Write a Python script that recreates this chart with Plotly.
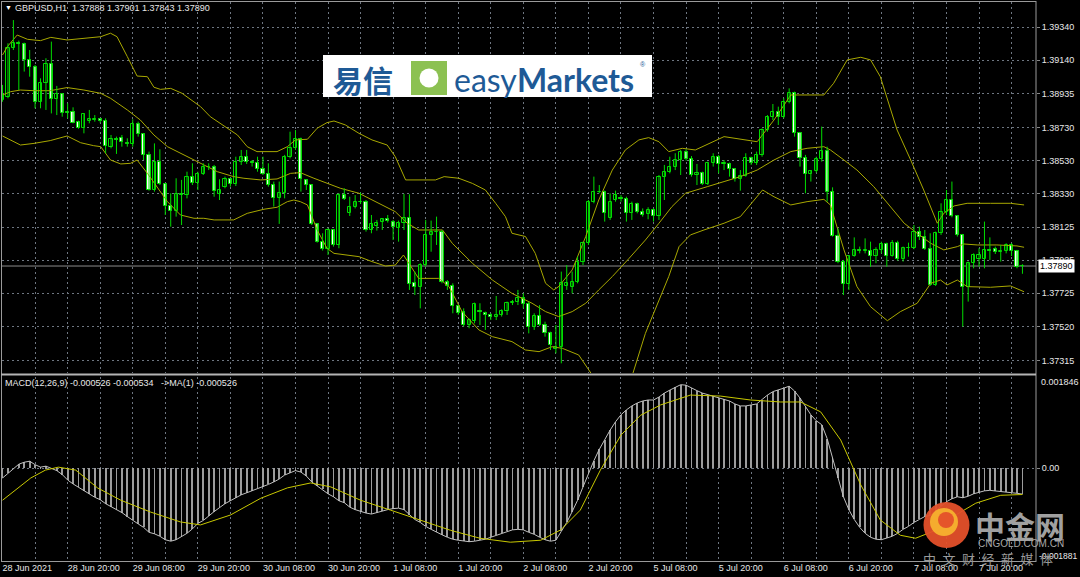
import plotly.graph_objects as go

# ---------------- data ----------------
open_ = [
1.38898,1.38919,1.39212,1.39247,1.39237,1.39142,1.39101,1.38888,1.39000,1.39115,
1.38903,1.38933,1.38824,1.38824,1.38767,1.38731,1.38773,1.38777,1.38781,1.38771,
1.38615,1.38660,1.38666,1.38639,1.38631,1.38753,1.38690,1.38565,1.38352,1.38524,
1.38388,1.38255,1.38226,1.38328,1.38324,1.38433,1.38396,1.38449,1.38490,1.38494,
1.38328,1.38368,1.38419,1.38388,1.38520,1.38554,1.38520,1.38514,1.38478,1.38449,
1.38382,1.38305,1.38332,1.38554,1.38605,1.38660,1.38413,1.38382,1.38143,1.38038,
1.37992,1.38109,1.38018,1.38321,1.38210,1.38247,1.38277,1.38281,1.38109,1.38133,
1.38160,1.38174,1.38160,1.38119,1.38150,1.38180,1.37785,1.37765,1.37896,1.38079,
1.38095,1.38099,1.37795,1.37769,1.37647,1.37611,1.37532,1.37558,1.37619,1.37607,
1.37591,1.37579,1.37593,1.37617,1.37668,1.37674,1.37694,1.37660,1.37522,1.37587,
1.37532,1.37481,1.37384,1.37400,1.37769,1.37761,1.37795,1.37912,1.38028,1.38281,
1.38342,1.38338,1.38180,1.38291,1.38303,1.38297,1.38210,1.38267,1.38220,1.38206,
1.38230,1.38194,1.38429,1.38463,1.38490,1.38534,1.38585,1.38542,1.38443,1.38453,
1.38388,1.38514,1.38554,1.38510,1.38510,1.38478,1.38417,1.38437,1.38544,1.38518,
1.38565,1.38716,1.38793,1.38824,1.38797,1.38888,1.38943,1.38696,1.38548,1.38449,
1.38467,1.38538,1.38591,1.38342,1.38073,1.37917,1.37781,1.37951,1.37988,1.37980,
1.37984,1.37953,1.37988,1.38022,1.37951,1.38028,1.37931,1.37998,1.38002,1.38099,
1.38064,1.37992,1.37775,1.38089,1.38220,1.38291,1.38194,1.38079,1.37761,1.37907,
1.37931,1.37931,1.37988,1.37992,1.37977,1.37984,1.38018,1.37984,1.37888]
high = [
1.38990,1.39243,1.39384,1.39259,1.39247,1.39202,1.39111,1.39030,1.39152,1.39253,
1.38984,1.38939,1.38878,1.38854,1.38773,1.38817,1.38838,1.38807,1.38787,1.38787,
1.38686,1.38676,1.38686,1.38666,1.38781,1.38767,1.38696,1.38585,1.38635,1.38599,
1.38392,1.38332,1.38423,1.38413,1.38463,1.38514,1.38463,1.38514,1.38514,1.38504,
1.38417,1.38433,1.38423,1.38554,1.38595,1.38595,1.38534,1.38554,1.38554,1.38514,
1.38403,1.38403,1.38565,1.38706,1.38716,1.38670,1.38417,1.38386,1.38150,1.38089,
1.38119,1.38113,1.38332,1.38362,1.38311,1.38321,1.38336,1.38291,1.38200,1.38170,
1.38180,1.38200,1.38170,1.38166,1.38328,1.38326,1.37856,1.37907,1.38170,1.38166,
1.38190,1.38109,1.37805,1.37785,1.37653,1.37633,1.37572,1.37668,1.37664,1.37613,
1.37603,1.37708,1.37627,1.37674,1.37684,1.37745,1.37724,1.37674,1.37603,1.37653,
1.37552,1.37491,1.37532,1.37856,1.37896,1.37856,1.37947,1.38038,1.38291,1.38433,
1.38382,1.38348,1.38332,1.38348,1.38321,1.38311,1.38281,1.38275,1.38240,1.38247,
1.38240,1.38443,1.38504,1.38554,1.38575,1.38595,1.38599,1.38558,1.38510,1.38463,
1.38524,1.38575,1.38565,1.38534,1.38518,1.38484,1.38473,1.38575,1.38554,1.38585,
1.38726,1.38807,1.38874,1.38858,1.38909,1.38969,1.38949,1.38700,1.38565,1.38473,
1.38554,1.38737,1.38615,1.38368,1.38119,1.37927,1.37957,1.38064,1.38008,1.38058,
1.38038,1.38004,1.38038,1.38032,1.38048,1.38044,1.38008,1.38032,1.38139,1.38129,
1.38109,1.38089,1.38099,1.38271,1.38352,1.38403,1.38200,1.38085,1.37917,1.37967,
1.37998,1.38160,1.38064,1.38008,1.38018,1.38028,1.38028,1.37988,1.37901]
low = [
1.38888,1.38909,1.39202,1.38959,1.39071,1.39040,1.38848,1.38848,1.38838,1.38817,
1.38807,1.38797,1.38787,1.38757,1.38724,1.38696,1.38757,1.38767,1.38761,1.38575,
1.38605,1.38571,1.38615,1.38615,1.38615,1.38676,1.38534,1.38348,1.38342,1.38382,
1.38200,1.38129,1.38190,1.38139,1.38301,1.38382,1.38352,1.38443,1.38473,1.38311,
1.38291,1.38362,1.38372,1.38376,1.38504,1.38510,1.38494,1.38463,1.38443,1.38372,
1.38251,1.38146,1.38301,1.38544,1.38595,1.38342,1.38352,1.38139,1.38032,1.37984,
1.37957,1.38008,1.37998,1.38291,1.38194,1.38240,1.38267,1.38099,1.38089,1.38105,
1.38109,1.38154,1.38048,1.38038,1.38109,1.37745,1.37714,1.37633,1.37886,1.37977,
1.38018,1.37785,1.37745,1.37603,1.37593,1.37522,1.37512,1.37542,1.37532,1.37502,
1.37562,1.37562,1.37583,1.37593,1.37653,1.37653,1.37633,1.37481,1.37502,1.37526,
1.37461,1.37380,1.37360,1.37299,1.37745,1.37724,1.37785,1.37896,1.38018,1.38271,
1.38332,1.38160,1.38170,1.38281,1.38281,1.38160,1.38170,1.38210,1.38190,1.38174,
1.38160,1.38170,1.38291,1.38453,1.38473,1.38443,1.38530,1.38433,1.38382,1.38382,
1.38382,1.38494,1.38453,1.38473,1.38433,1.38403,1.38348,1.38433,1.38504,1.38504,
1.38554,1.38706,1.38777,1.38747,1.38787,1.38878,1.38676,1.38494,1.38332,1.38403,
1.38457,1.38524,1.38281,1.38069,1.37907,1.37714,1.37745,1.37947,1.37967,1.37967,
1.37886,1.37907,1.37967,1.37886,1.37947,1.37923,1.37917,1.37947,1.37992,1.38048,
1.37988,1.37769,1.37769,1.38079,1.38200,1.38186,1.38069,1.37522,1.37674,1.37876,
1.37886,1.37876,1.37927,1.37963,1.37917,1.37967,1.37951,1.37876,1.37843]
close = [
1.38929,1.39212,1.39247,1.39237,1.39142,1.39101,1.38888,1.39000,1.39117,1.38903,
1.38935,1.38817,1.38817,1.38761,1.38731,1.38812,1.38781,1.38785,1.38773,1.38619,
1.38660,1.38656,1.38645,1.38631,1.38753,1.38690,1.38565,1.38352,1.38524,1.38388,
1.38255,1.38226,1.38328,1.38324,1.38433,1.38396,1.38449,1.38490,1.38494,1.38346,
1.38352,1.38419,1.38388,1.38520,1.38554,1.38520,1.38514,1.38478,1.38449,1.38382,
1.38305,1.38332,1.38554,1.38605,1.38660,1.38419,1.38382,1.38146,1.38038,1.37992,
1.38109,1.38018,1.38321,1.38295,1.38247,1.38277,1.38281,1.38109,1.38146,1.38150,
1.38174,1.38164,1.38125,1.38154,1.38180,1.37781,1.37765,1.37896,1.38079,1.38095,
1.38099,1.37795,1.37769,1.37647,1.37607,1.37532,1.37562,1.37660,1.37609,1.37591,
1.37583,1.37593,1.37617,1.37668,1.37674,1.37694,1.37660,1.37522,1.37587,1.37532,
1.37481,1.37410,1.37400,1.37785,1.37789,1.37795,1.37912,1.38028,1.38281,1.38342,
1.38338,1.38214,1.38281,1.38321,1.38295,1.38210,1.38267,1.38220,1.38200,1.38230,
1.38194,1.38433,1.38463,1.38494,1.38534,1.38585,1.38538,1.38443,1.38453,1.38388,
1.38514,1.38554,1.38510,1.38514,1.38478,1.38417,1.38437,1.38544,1.38518,1.38565,
1.38716,1.38793,1.38824,1.38797,1.38888,1.38943,1.38696,1.38548,1.38449,1.38467,
1.38538,1.38591,1.38342,1.38073,1.37917,1.37781,1.37951,1.37988,1.37980,1.37988,
1.37953,1.37988,1.38022,1.37951,1.38028,1.37931,1.37998,1.38002,1.38099,1.38064,
1.37992,1.37775,1.38089,1.38220,1.38291,1.38194,1.38079,1.37761,1.37907,1.37957,
1.37957,1.37988,1.37984,1.37977,1.37984,1.38018,1.37984,1.37886,1.37890]

# Bollinger bands (20,2) read at bar positions
bb_up_x = [0,0.9,2.7,4.6,7.0,8.9,11.9,18.1,19.9,21.1,23.0,24.8,26.7,27.9,29.1,31.0,33.1,36.5,38.3,41.4,
           43.3,45.1,46.9,50.6,52.5,54.0,56.2,58.0,59.8,61.1,63.2,65.7,68.1,70.9,72.4,74.3,79.8,81.4,84.1,86.6,
           89.0,90.9,92.7,93.9,96.4,98.2,100.1,101.6,102.5,105.0,107.5,109.9,112.4,114.8,117.3,119.1,121.0,122.8,125.3,127.7,
           133.0,139.1,142.2,145.3,151.4,153.2,155.7,158.2,160.0,161.8,163.7,164.9,167.4,169.8,172.3,173.5,175.4,177.8,182.1,185.8,188.3]
bb_up = [1.39172,1.39223,1.39293,1.39267,1.39259,1.39279,1.39263,1.39283,1.39304,1.39283,1.39162,1.39044,1.39040,1.38976,1.38963,1.38969,1.38939,1.38858,1.38797,1.38727,
         1.38686,1.38615,1.38585,1.38585,1.38615,1.38656,1.38660,1.38727,1.38761,1.38771,1.38747,1.38696,1.38656,1.38625,1.38554,1.38413,1.38413,1.38433,1.38423,1.38392,
         1.38352,1.38271,1.38190,1.38089,1.38069,1.37967,1.37785,1.37745,1.37765,1.37866,1.38069,1.38291,1.38473,1.38595,1.38656,1.38670,1.38645,1.38585,1.38605,1.38595,
         1.38676,1.38645,1.38777,1.38929,1.38929,1.39000,1.39142,1.39158,1.39142,1.39040,1.38838,1.38716,1.38534,1.38352,1.38150,1.38210,1.38255,1.38271,1.38271,1.38271,1.38261]
bb_mid_x = [0,1.5,3.3,5.8,8.8,11.9,15.0,18.1,19.9,23.0,25.4,27.9,30.4,33.4,36.5,39.6,42.6,44.5,47.6,50.6,
            53.1,54.9,57.4,59.8,62.3,65.7,69.4,72.4,74.6,76.7,81.1,82.9,86.6,90.3,93.9,97.6,100.1,102.5,105.0,107.5,
            109.9,112.4,115.5,118.5,121.0,123.4,125.9,127.7,129.9,133.0,136.0,139.1,142.2,145.3,148.3,151.4,152.6,155.1,157.5,160.6,
            163.7,166.2,168.6,171.1,173.5,176.0,177.2,179.7,183.3,187.0,188.3]
bb_mid = [1.38929,1.38949,1.38959,1.38955,1.38955,1.38974,1.38959,1.38939,1.38909,1.38838,1.38777,1.38686,1.38615,1.38565,1.38514,1.38463,1.38433,1.38423,1.38413,1.38419,
          1.38453,1.38457,1.38423,1.38392,1.38362,1.38332,1.38271,1.38220,1.38150,1.38109,1.38109,1.38028,1.37907,1.37805,1.37724,1.37664,1.37613,1.37583,1.37613,1.37664,
          1.37745,1.37826,1.37937,1.38048,1.38150,1.38251,1.38332,1.38352,1.38372,1.38403,1.38433,1.38473,1.38534,1.38585,1.38605,1.38615,1.38595,1.38534,1.38473,1.38372,
          1.38251,1.38150,1.38089,1.38028,1.37988,1.38008,1.38024,1.38018,1.38018,1.38012,1.38004]
bb_low_x = [0,1.5,3.3,5.8,8.8,11.9,14.4,16.8,18.1,19.9,21.8,23.6,24.8,26.7,28.5,30.4,32.8,35.3,37.1,39.0,
            42.6,45.1,48.2,50.6,52.5,53.7,54.9,56.2,58.0,59.8,61.1,64.1,65.7,68.1,70.6,72.4,73.9,74.9,76.7,80.4,
            82.3,84.7,87.8,90.3,93.9,96.4,98.9,101.3,103.2,106.2,108.7,110.5,112.4,114.2,116.1,118.5,121.0,122.8,124.7,126.8,
            129.3,133.0,136.0,139.1,140.1,142.2,145.3,148.3,151.4,152.6,155.1,157.5,160.0,163.1,165.5,168.6,171.1,172.9,174.1,176.0,
            177.8,182.1,185.8,188.3]
bb_low = [1.38680,1.38656,1.38625,1.38635,1.38652,1.38680,1.38639,1.38621,1.38615,1.38534,1.38510,1.38514,1.38534,1.38453,1.38372,1.38281,1.38200,1.38180,1.38180,1.38170,
          1.38170,1.38210,1.38235,1.38247,1.38281,1.38291,1.38281,1.38261,1.38109,1.37998,1.37967,1.37951,1.37947,1.37917,1.37890,1.37896,1.37957,1.37907,1.37815,1.37815,
          1.37765,1.37613,1.37502,1.37461,1.37431,1.37380,1.37370,1.37400,1.37390,1.37350,1.37228,1.37076,1.36975,1.37076,1.37228,1.37481,1.37684,1.37826,1.38008,1.38079,
          1.38109,1.38150,1.38190,1.38311,1.38352,1.38311,1.38261,1.38281,1.38295,1.38261,1.37988,1.37765,1.37643,1.37558,1.37613,1.37664,1.37785,1.37805,1.37775,1.37805,
          1.37765,1.37761,1.37769,1.37734]

# MACD(12,26,9) main value per bar
macd = [
-0.000200,-0.000100,0.000000,0.000080,0.000120,0.000140,0.000070,0.000020,0.000040,0.000000,
-0.000050,-0.000130,-0.000240,-0.000320,-0.000390,-0.000460,-0.000530,-0.000590,-0.000640,-0.000720,
-0.000780,-0.000840,-0.000900,-0.000980,-0.001060,-0.001130,-0.001200,-0.001300,-0.001330,-0.001380,
-0.001450,-0.001480,-0.001450,-0.001390,-0.001320,-0.001230,-0.001120,-0.001060,-0.000960,-0.000880,
-0.000800,-0.000720,-0.000660,-0.000600,-0.000540,-0.000500,-0.000460,-0.000410,-0.000380,-0.000330,
-0.000280,-0.000220,-0.000140,-0.000090,-0.000050,-0.000080,-0.000160,-0.000280,-0.000360,-0.000430,
-0.000520,-0.000580,-0.000660,-0.000700,-0.000790,-0.000840,-0.000880,-0.000910,-0.000930,-0.000900,
-0.000860,-0.000840,-0.000820,-0.000810,-0.000840,-0.000950,-0.001040,-0.001100,-0.001180,-0.001240,
-0.001300,-0.001350,-0.001400,-0.001440,-0.001460,-0.001480,-0.001490,-0.001480,-0.001460,-0.001440,
-0.001400,-0.001360,-0.001320,-0.001280,-0.001250,-0.001240,-0.001250,-0.001300,-0.001340,-0.001400,
-0.001450,-0.001480,-0.001460,-0.001280,-0.001100,-0.000880,-0.000650,-0.000380,-0.000100,0.000150,
0.000380,0.000580,0.000770,0.000940,0.001080,0.001180,0.001260,0.001320,0.001360,0.001380,
0.001380,0.001440,0.001520,0.001580,0.001640,0.001690,0.001680,0.001620,0.001570,0.001520,
0.001490,0.001460,0.001430,0.001400,0.001360,0.001300,0.001260,0.001260,0.001280,0.001300,
0.001390,0.001480,0.001550,0.001580,0.001620,0.001660,0.001560,0.001420,0.001240,0.001080,
0.000960,0.000880,0.000600,0.000200,-0.000200,-0.000580,-0.000840,-0.001040,-0.001200,-0.001320,
-0.001400,-0.001440,-0.001450,-0.001420,-0.001380,-0.001320,-0.001240,-0.001180,-0.001100,-0.001040,
-0.000980,-0.000960,-0.000860,-0.000760,-0.000680,-0.000620,-0.000580,-0.000600,-0.000570,-0.000520,
-0.000490,-0.000460,-0.000450,-0.000460,-0.000480,-0.000480,-0.000490,-0.000510,-0.000526]
# signal line read at bar positions
sig_x = [0,2.4,5.2,7.9,10.3,13.5,17.5,21.8,27.3,32.8,36.5,42.0,47.6,52.5,56.8,60.5,66.0,71.5,77.0,82.6,
         88.0,93.6,99.2,102.9,106.5,110.2,114.0,117.6,121.3,126.8,132.3,137.9,143.4,147.1,150.8,154.5,158.2,161.8,165.5,168.3,
         172.0,175.7,179.4,184.0,188.0]
sig = [-0.00065,-0.00044,-0.00020,-0.00004,0.00002,-0.00004,-0.00040,-0.00065,-0.00089,-0.00109,-0.00115,-0.00095,-0.00061,-0.00040,-0.00030,-0.00038,-0.00065,-0.00085,-0.00105,-0.00126,
       -0.00142,-0.00150,-0.00146,-0.00125,-0.00085,-0.00004,0.00067,0.00107,0.00128,0.00148,0.00146,0.00138,0.00134,0.00134,0.00114,0.00057,-0.00034,-0.00105,-0.00136,-0.00142,
       -0.00126,-0.00095,-0.00071,-0.00055,-0.000534]

time_labels = ["28 Jun 2021", "28 Jun 20:00", "29 Jun 08:00", "29 Jun 20:00", "30 Jun 08:00",
               "30 Jun 20:00", "1 Jul 08:00", "1 Jul 20:00", "2 Jul 08:00", "2 Jul 20:00",
               "5 Jul 08:00", "5 Jul 20:00", "6 Jul 08:00", "6 Jul 20:00", "7 Jul 08:00", "7 Jul 20:00"]
price_ticks = [1.39340, 1.39140, 1.38935, 1.38730, 1.38530, 1.38330, 1.38125, 1.37925, 1.37725, 1.37520, 1.37315]
macd_max, macd_min = 0.001846, -0.001881

# ---------------- style / layout helpers ----------------
W, H = 1080, 577
ML, MR, MT, MB = 2, 44, 2, 16
PW, PH = W - ML - MR, H - MT - MB
def PX(x): return (x - ML) / PW
def PY(y): return 1 - (y - MT) / PH

GREEN = "#00dc00"
GRID = "#6e7681"
TXT = "#e8e8e8"
FONT = "Liberation Sans"
n = len(close)
xs = list(range(n))

fig = go.Figure()

# Bollinger bands
for bx, by in ((bb_up_x, bb_up), (bb_mid_x, bb_mid), (bb_low_x, bb_low)):
    fig.add_trace(go.Scatter(x=bx, y=by, mode="lines", line=dict(color="#a8a800", width=1),
                             xaxis="x2", yaxis="y2", hoverinfo="skip"))

# wicks
wx, wy = [], []
for i in xs:
    wx += [i, i, None]
    wy += [low[i], high[i], None]
fig.add_trace(go.Scatter(x=wx, y=wy, mode="lines", line=dict(color=GREEN, width=1),
                         xaxis="x2", yaxis="y2", hoverinfo="skip"))
# bodies
for up, fill in ((True, "#000000"), (False, "#ffffff")):
    idx = [i for i in xs if (close[i] > open_[i]) == up]
    fig.add_trace(go.Bar(
        x=idx,
        y=[max(abs(close[i] - open_[i]), 0.000012) for i in idx],
        base=[min(open_[i], close[i]) for i in idx],
        width=0.58, marker=dict(color=fill, line=dict(color=GREEN, width=1)),
        xaxis="x2", yaxis="y2", hoverinfo="skip"))

# MACD pane
fig.add_trace(go.Bar(x=xs, y=macd, width=0.16, marker=dict(color="#9c9c9c", line=dict(width=0)),
                     xaxis="x", yaxis="y", hoverinfo="skip"))
fig.add_trace(go.Scatter(x=xs, y=macd, mode="lines", line=dict(color="#c0c0c0", width=1),
                         xaxis="x", yaxis="y", hoverinfo="skip"))
fig.add_trace(go.Scatter(x=sig_x, y=sig, mode="lines", line=dict(color="#c8c800", width=1),
                         xaxis="x", yaxis="y", hoverinfo="skip"))

grid_x = list(range(0, 190, 6))
grid_text = [time_labels[k // 12] if k % 12 == 0 and k // 12 < len(time_labels) else "" for k in grid_x]
xr = [-0.1, 190.5]
main_dom = [PY(373), 1]
macd_dom = [0, PY(377)]

fig.update_layout(
    width=W, height=H, margin=dict(l=ML, r=MR, t=MT, b=MB, autoexpand=False),
    paper_bgcolor="#000000", plot_bgcolor="#000000",
    showlegend=False, barmode="overlay", bargap=0,
    font=dict(family=FONT, size=9, color=TXT),
    xaxis=dict(domain=[0, 1], range=xr, anchor="y", tickvals=grid_x, ticktext=grid_text,
               showgrid=True, gridcolor=GRID, griddash="2px,3px", gridwidth=1, automargin=False,
               zeroline=False, showline=False, ticks="", tickangle=0,
               ticklabelposition="outside right", tickfont=dict(size=9, color=TXT, family=FONT)),
    xaxis2=dict(domain=[0, 1], range=xr, anchor="y2", matches="x", tickvals=grid_x, automargin=False,
                showticklabels=False, showgrid=True, gridcolor=GRID, griddash="2px,3px",
                zeroline=False, showline=False, ticks=""),
    yaxis=dict(domain=macd_dom, range=[macd_min, macd_max], side="right", anchor="x", automargin=False,
               tickvals=[0], ticktext=["0.00"], showgrid=True, gridcolor=GRID, griddash="2px,3px",
               zeroline=False, ticks="outside", ticklen=3, tickcolor="#888888",
               tickfont=dict(size=9, color=TXT, family=FONT)),
    yaxis2=dict(domain=main_dom, range=[1.372403, 1.394937], side="right", anchor="x2", automargin=False,
                tickvals=price_ticks, ticktext=["%.5f" % v for v in price_ticks],
                showgrid=True, gridcolor=GRID, griddash="2px,3px", zeroline=False,
                ticks="outside", ticklen=3, tickcolor="#888888",
                tickfont=dict(size=9, color=TXT, family=FONT)),
)

shapes = []
BORDER = "#9a9a9a"
def pline(x0, y0, x1, y1, color=BORDER, w=1):
    shapes.append(dict(type="line", xref="paper", yref="paper", x0=PX(x0), y0=PY(y0),
                       x1=PX(x1), y1=PY(y1), line=dict(color=color, width=w), layer="above"))
pline(1, 1.5, 1036, 1.5)
pline(1.5, 1, 1.5, 562)
pline(1036, 1, 1036, 562)
pline(1, 374.5, 1036, 374.5, "#b4b4b4", 2)
pline(1, 561.5, 1036, 561.5)
# current price line
shapes.append(dict(type="line", xref="paper", yref="y2", x0=0, x1=1, y0=close[-1], y1=close[-1],
                   line=dict(color="#8c8c8c", width=1), layer="below"))

# easyMarkets banner
shapes.append(dict(type="rect", xref="paper", yref="paper", x0=PX(323), x1=PX(652), y0=PY(97), y1=PY(55),
                   fillcolor="#ffffff", line=dict(width=0), layer="above"))
shapes.append(dict(type="rect", xref="paper", yref="paper", x0=PX(411), x1=PX(447), y0=PY(95), y1=PY(61),
                   fillcolor="#8cc152", line=dict(width=0), layer="above"))
shapes.append(dict(type="circle", xref="paper", yref="paper", x0=PX(419.5), x1=PX(438.5), y0=PY(87.5), y1=PY(68.5),
                   fillcolor="#ffffff", line=dict(width=0), layer="above"))
# cngold watermark
shapes.append(dict(type="circle", xref="paper", yref="paper", x0=PX(923.5), x1=PX(969.5), y0=PY(548), y1=PY(502),
                   fillcolor="#e4502a", line=dict(width=0), layer="above", opacity=0.95))
shapes.append(dict(type="circle", xref="paper", yref="paper", x0=PX(930), x1=PX(958), y0=PY(536), y1=PY(508),
                   fillcolor="#f7b12e", line=dict(width=0), layer="above", opacity=0.95))
shapes.append(dict(type="circle", xref="paper", yref="paper", x0=PX(938), x1=PX(954), y0=PY(528), y1=PY(512),
                   fillcolor="#e4502a", line=dict(width=0), layer="above", opacity=0.95))
fig.update_layout(shapes=shapes)

ann = []
def text(x, y, s, size=9, color=TXT, anchor="left", family=FONT, **kw):
    ann.append(dict(xref="paper", yref="paper", x=PX(x), y=PY(y), text=s, showarrow=False,
                    xanchor=anchor, yanchor="middle", font=dict(size=size, color=color, family=family), **kw))

sp = "\u00a0"
text(3, 8, "▼", size=7, color="#ffffff")
text(13, 8, "GBPUSD,H1" + sp * 2 + " ".join("%.5f" % v for v in (open_[-1], high[-1], low[-1], close[-1])))
text(3, 383, "MACD(12,26,9) %.6f %.6f%s->MA(1) %.6f" % (macd[-1], sig[-1], sp * 2 + " ", macd[-1]))
text(1039, 382, "%.6f" % macd_max)
text(1037, 556, "%.6f" % macd_min, size=8.5)
ann.append(dict(xref="paper", yref="y2", x=PX(1038), y=close[-1], text="%.5f" % close[-1], showarrow=False,
                xanchor="left", yanchor="middle", bgcolor="#ffffff", borderpad=1,
                font=dict(size=9, color="#000000", family=FONT)))
# banner text
text(363, 79, "<b>易信</b>", size=30, color="#1e5a96", anchor="center", family="Noto Sans CJK SC")
text(452, 79, "easy<b>Markets</b>", size=32, color="#1e5a96", family="Lato")
text(638, 64, "®", size=7, color="#1e5a96")
# watermark text
text(1020, 525, "<b>中金网</b>", size=30, color="#a0a0a0", anchor="center", family="Noto Sans CJK SC")
text(1021, 543, "CNGOLD.COM.CN", size=10, color="#a8a8a8", anchor="center")
text(988, 558, "\u2002".join("中文财经新媒体"), size=13, color="#9a9a9a", anchor="center", family="Noto Sans CJK SC")
fig.update_layout(annotations=ann)

fig.write_html("out.html", config={"displayModeBar": False},
               post_script="document.body.style.margin='0';document.body.style.padding='0';document.body.style.overflow='hidden';")
